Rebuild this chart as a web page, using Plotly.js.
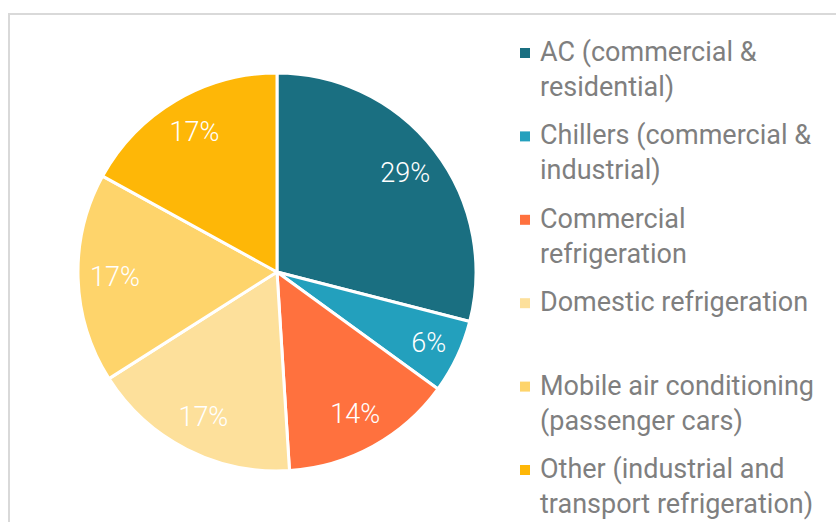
<!DOCTYPE html>
<html>
<head>
<meta charset="utf-8">
<script src="https://cdn.plot.ly/plotly-3.0.1.min.js"></script>
<style>
  html, body { margin: 0; padding: 0; background: #ffffff; }
  #chart { width: 836px; height: 522px; }
</style>
</head>
<body>
<div id="chart"></div>
<script>
// Data
var categories = [
  "AC (commercial &amp;<br>residential)",
  "Chillers (commercial &amp;<br>industrial)",
  "Commercial<br>refrigeration",
  "Domestic refrigeration",
  "Mobile air conditioning<br>(passenger cars)",
  "Other (industrial and<br>transport refrigeration)"
];
var shares = [29, 6, 14, 17, 17, 17];
var colors = ["#1a6f81", "#23a0bd", "#ff713e", "#fde09b", "#fed46b", "#feb707"];

var W = 836, H = 522;
var cx = 277, cy = 272, R = 199;
var dom = { x: [(cx - R) / W, (cx + R) / W], y: [(H - cy - R) / H, (H - cy + R) / H] };
var plainLabels = categories.map(function (c) { return c.replace(/<br>/g, " ").replace("&amp;", "&"); });

// Slices
var pie = {
  type: "pie",
  labels: plainLabels,
  values: shares,
  sort: false,
  direction: "clockwise",
  rotation: 0,
  marker: { colors: colors, line: { color: "#ffffff", width: 3 } },
  textinfo: "none",
  hoverinfo: "label+percent",
  domain: dom,
  showlegend: false
};

// Same pie, transparent, with a hole so that the percentage labels sit toward the rim
var pieText = {
  type: "pie",
  labels: plainLabels,
  values: shares,
  sort: false,
  direction: "clockwise",
  rotation: 0,
  hole: 0.63,
  marker: { colors: colors.map(function () { return "rgba(0,0,0,0)"; }), line: { width: 0 } },
  texttemplate: "%{percent:.0%}",
  textposition: "inside",
  insidetextorientation: "horizontal",
  textfont: { family: "Roboto, sans-serif", size: 27, color: "#ffffff", weight: 300 },
  hoverinfo: "skip",
  domain: dom,
  showlegend: false
};

// Frame and legend built from the category arrays
var shapes = [
  { type: "rect", xref: "paper", yref: "paper",
    x0: 9 / W, x1: 1.05, y0: -0.05, y1: 1 - 14 / H,
    line: { color: "#d9d9d9", width: 2 }, fillcolor: "rgba(0,0,0,0)", layer: "below" }
];
var annotations = [];
var legTop = 53, legStep = 83.4, sq = 10;
categories.forEach(function (c, i) {
  var yc = legTop + i * legStep;
  shapes.push({ type: "rect", xref: "paper", yref: "paper",
    x0: 520 / W, x1: (520 + sq) / W, y0: 1 - (yc + sq / 2) / H, y1: 1 - (yc - sq / 2) / H,
    line: { width: 0 }, fillcolor: colors[i] });
  annotations.push({ xref: "paper", yref: "paper", x: 538 / W, y: 1 - (yc - 19) / H,
    xanchor: "left", yanchor: "top", align: "left", showarrow: false,
    text: c, font: { family: "Roboto, sans-serif", size: 27, color: "#7f7f7f" } });
});

var layout = {
  width: W, height: H,
  margin: { l: 0, r: 0, t: 0, b: 0 },
  paper_bgcolor: "#ffffff",
  showlegend: false,
  shapes: shapes,
  annotations: annotations
};

Plotly.newPlot("chart", [pie, pieText], layout, { displayModeBar: false, staticPlot: true });
</script>
</body>
</html>
